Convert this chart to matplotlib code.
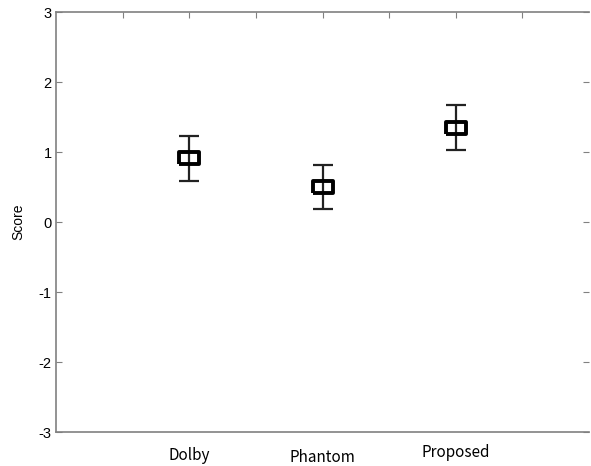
import numpy as np
import matplotlib
matplotlib.use("Agg")
import matplotlib.pyplot as plt

# data
methods = ["Dolby", "Phantom", "Proposed"]
positions = [1, 2, 3]
mean_score = [0.92, 0.50, 1.35]
err_low = [0.34, 0.31, 0.32]
err_high = [0.31, 0.32, 0.32]
label_y = [-3.33, -3.36, -3.29]

y_ticks = [-3, -2, -1, 0, 1, 2, 3]
top_ticks = [0.5, 1.0, 1.5, 2.0, 2.5, 3.0, 3.5]

plt.rcParams["font.family"] = ["Liberation Sans", "DejaVu Sans"]

fig = plt.figure(figsize=(5.91, 4.66), dpi=100)
ax = fig.add_axes([56 / 591, 34 / 466, 533 / 591, 420 / 466])

# wide rectangle marker
rect = [(-1, -0.62), (1, -0.62), (1, 0.62), (-1, 0.62), (-1, -0.62)]

ax.errorbar(positions, mean_score, yerr=[err_low, err_high], fmt="none",
            ecolor="#222222", elinewidth=1.6, capsize=7, capthick=1.6, zorder=2)
ax.plot(positions, mean_score, linestyle="none", marker=rect, markersize=15,
        markerfacecolor="none", markeredgecolor="black", markeredgewidth=2.8,
        zorder=3)

ax.set_xlim(0, 4)
ax.set_ylim(-3, 3)

ax.set_yticks(y_ticks)
ax.set_yticklabels([str(t) for t in y_ticks], fontsize=10.5)
ax.tick_params(axis="y", direction="in", length=4, color="#808080",
               right=True, labelright=False, pad=3)

ax.set_xticks(top_ticks)
ax.tick_params(axis="x", direction="in", length=4, color="#808080",
               top=True, bottom=False, labelbottom=False, labeltop=False)

for s in ["left", "top", "bottom"]:
    ax.spines[s].set_color("#808080")
    ax.spines[s].set_linewidth(1.2)
ax.spines["right"].set_visible(False)

for x, y, name in zip(positions, label_y, methods):
    ax.text(x, y, name, ha="center", va="center", fontsize=11,
            family=["Noto Sans CJK KR", "DejaVu Sans"], clip_on=False)

ax.set_ylabel("Score", fontsize=10, labelpad=10)

fig.savefig("out.png", dpi=100)
